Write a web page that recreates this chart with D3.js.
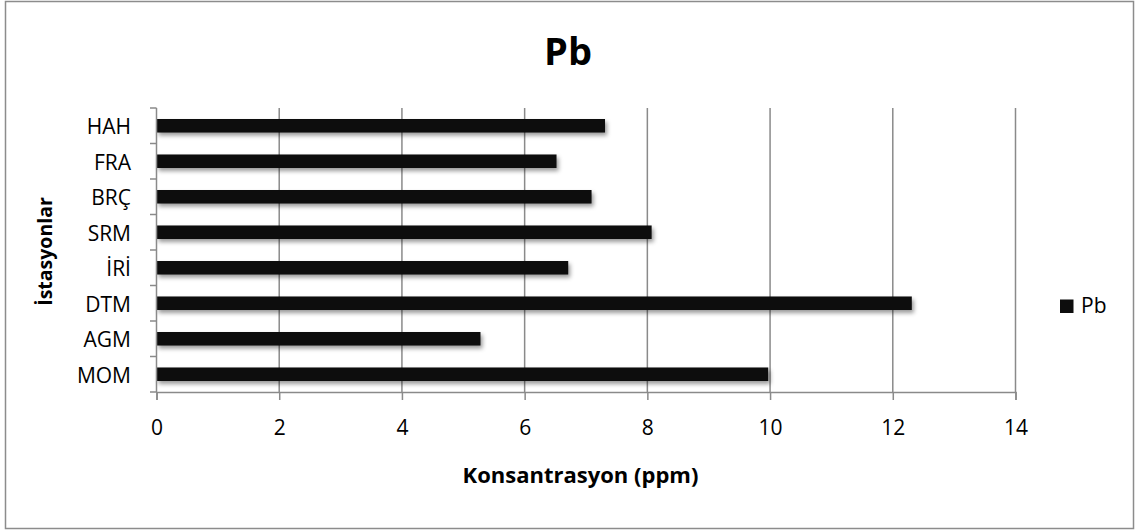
<!DOCTYPE html>
<html><head><meta charset="utf-8">
<script src="https://cdn.jsdelivr.net/npm/d3@7/dist/d3.min.js"></script>
<style>
html,body{margin:0;padding:0;background:#fff;}
svg text{font-family:"Open Sans","Noto Sans",sans-serif;}
</style></head>
<body>
<script>
const categories = ["HAH","FRA","BRÇ","SRM","İRİ","DTM","AGM","MOM"];
const values = [7.31, 6.52, 7.09, 8.07, 6.71, 12.31, 5.28, 9.97];
const xTicks = [0,2,4,6,8,10,12,14];
const seriesName = "Pb";
const chartTitle = "Pb";
const xTitle = "Konsantrasyon (ppm)";
const yTitle = "İstasyonlar";

const W = 1136, H = 531;
const svg = d3.select("body").append("svg").attr("width", W).attr("height", H);

const defs = svg.append("defs");
const f = defs.append("filter").attr("id","sh").attr("x","-5%").attr("y","-50%").attr("width","110%").attr("height","250%");
f.append("feDropShadow").attr("dx",2).attr("dy",3).attr("stdDeviation",2).attr("flood-color","#000").attr("flood-opacity",0.4);

svg.append("rect").attr("x",5.5).attr("y",1.5).attr("width",1128).attr("height",527)
  .attr("fill","#fff").attr("stroke","#8c8c8c").attr("stroke-width",1.5);

const plotTop = 108, plotBottom = 392;
const x = d3.scaleLinear().domain([0,14]).range([156.5,1015.5]);
const y = d3.scaleBand().domain(categories).range([plotTop,plotBottom]).paddingInner(0.62).paddingOuter(0.31);

// gridlines
svg.append("g").selectAll("line").data(xTicks.slice(1)).join("line")
  .attr("x1",d=>x(d)).attr("x2",d=>x(d)).attr("y1",plotTop).attr("y2",plotBottom)
  .attr("stroke","#8a8a8a").attr("stroke-width",1.5);

// bars
svg.append("g").selectAll("rect").data(categories).join("rect")
  .attr("x",x(0)).attr("y",d=>y(d)).attr("height",y.bandwidth())
  .attr("width",(d,i)=>x(values[i])-x(0))
  .attr("fill","#0d0d0d").attr("filter","url(#sh)");

// x axis
const xa = svg.append("g").attr("transform",`translate(0,${plotBottom})`)
  .call(d3.axisBottom(x).tickValues(xTicks).tickSize(8).tickPadding(20).tickFormat(d3.format("d")));
xa.select(".domain").attr("stroke","#8a8a8a").attr("stroke-width",1.5);
xa.selectAll(".tick line").attr("stroke","#8a8a8a").attr("stroke-width",1.5);
xa.selectAll(".tick text").attr("font-size",21).attr("fill","#000").attr("font-family","Open Sans");

// y axis
const yEdges = d3.range(categories.length+1).map(i=>plotTop + i*(plotBottom-plotTop)/categories.length);
svg.append("line").attr("x1",156.5).attr("x2",156.5).attr("y1",plotTop).attr("y2",plotBottom)
  .attr("stroke","#8a8a8a").attr("stroke-width",1.5);
svg.append("g").selectAll("line").data(yEdges).join("line")
  .attr("x1",150).attr("x2",156.5).attr("y1",d=>d).attr("y2",d=>d)
  .attr("stroke","#8a8a8a").attr("stroke-width",1.5);
svg.append("g").selectAll("text").data(categories).join("text")
  .attr("x",131).attr("y",d=>y(d)+y.bandwidth()/2+1).attr("dy","0.36em")
  .attr("text-anchor","end").attr("font-size",21).attr("fill","#000").text(d=>d);

// titles
svg.append("text").attr("x",568).attr("y",65).attr("text-anchor","middle")
  .attr("font-size",38).attr("font-weight","bold").text(chartTitle);
svg.append("text").attr("x",580.5).attr("y",483).attr("text-anchor","middle")
  .attr("font-size",22).attr("font-weight","bold").text(xTitle);
svg.append("text").attr("transform","translate(52,251.5) rotate(-90)").attr("text-anchor","middle")
  .attr("font-size",19.5).attr("font-weight","bold").text(yTitle);

// legend
svg.append("rect").attr("x",1060).attr("y",299.5).attr("width",13.5).attr("height",13.5).attr("fill","#0d0d0d");
svg.append("text").attr("x",1081).attr("y",313).attr("font-size",21).text(seriesName);
</script>
</body></html>
